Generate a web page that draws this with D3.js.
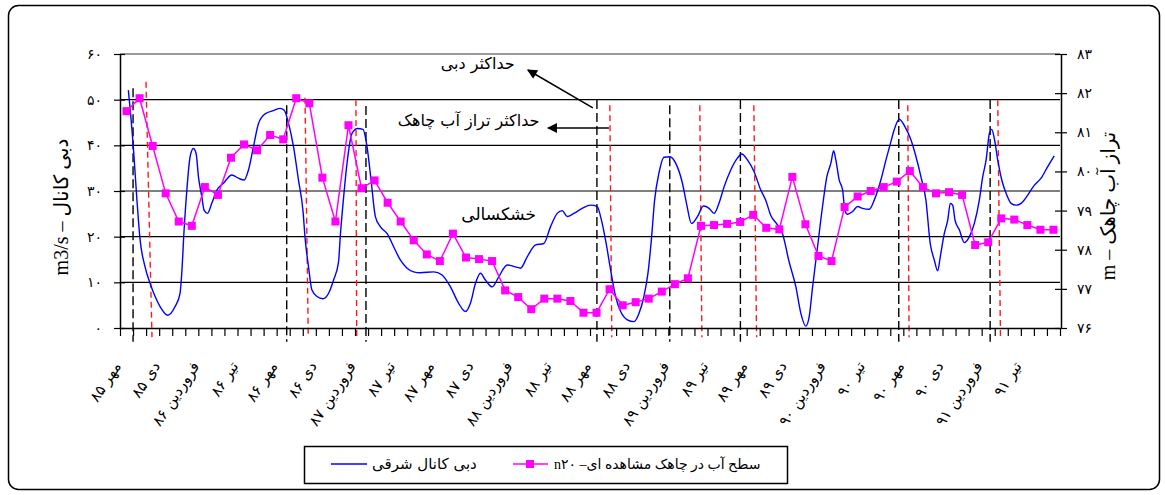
<!DOCTYPE html>
<html>
<head>
<meta charset="utf-8">
<script src="https://cdn.jsdelivr.net/npm/d3@7"></script>
<style>
  body { margin: 0; background: #fff; }
  svg { display: block; }
  text { font-family: "DejaVu Sans", sans-serif; fill: #000; }
</style>
</head>
<body>
<svg id="chart" width="1165" height="495"></svg>
<script>
// Month labels along the bottom axis (one every three months, starting at مهر ۸۵)
const monthLabels = ["مهر ۸۵","دی ۸۵","فروردین ۸۶","تیر ۸۶","مهر ۸۶","دی ۸۶","فروردین ۸۷","تیر ۸۷",
  "مهر ۸۷","دی ۸۷","فروردین ۸۸","تیر ۸۸","مهر ۸۸","دی ۸۸","فروردین ۸۹","تیر ۸۹",
  "مهر ۸۹","دی ۸۹","فروردین ۹۰","تیر ۹۰","مهر ۹۰","دی ۹۰","فروردین ۹۱","تیر ۹۱"];
const monthCount = 72;

const flowTicks = [0, 10, 20, 30, 40, 50, 60];
const flowTickLabels = ["۰","۱۰","۲۰","۳۰","۴۰","۵۰","۶۰"];
const levelTicks = [76, 77, 78, 79, 80, 81, 82, 83];
const levelTickLabels = ["۷۶","۷۷","۷۸","۷۹","۸۰","۸۱","۸۲","۸۳"];

// Monthly water level in observation well n20 (m)
const wellLevel = [81.54,81.87,80.65,79.44,78.72,78.61,79.60,79.40,80.35,80.69,80.54,80.93,
  80.82,81.87,81.74,79.84,78.72,81.18,79.57,79.77,79.20,78.72,78.24,77.88,
  77.71,78.41,77.80,77.76,77.71,76.96,76.79,76.48,76.75,76.75,76.69,76.39,
  76.39,76.99,76.58,76.66,76.75,76.93,77.12,77.27,78.61,78.63,78.66,78.71,
  78.89,78.56,78.52,79.86,78.65,77.84,77.71,79.09,79.36,79.50,79.60,79.74,
  80.01,79.60,79.44,79.47,79.40,78.12,78.19,78.80,78.77,78.63,78.51,78.51];

// East canal discharge (m3/s), time in months from the start of مهر ۸۵
const flowMonth = [0.14,0.52,0.78,1.04,1.42,1.80,2.19,2.57,3.16,3.72,4.10,4.23,4.41,4.62,4.87,5.12,
  5.33,5.51,5.77,5.94,6.20,6.53,6.92,7.42,8.07,8.57,9.01,9.34,9.72,10.11,10.62,11.26,
  11.77,12.08,12.41,12.79,13.17,13.51,13.69,13.94,14.20,14.59,15.05,15.48,15.86,16.24,16.37,16.63,
  16.89,17.27,17.70,18.11,18.42,18.73,19.06,19.44,19.95,20.46,20.97,21.49,21.99,22.51,23.53,24.17,
  24.81,25.44,25.96,26.34,26.73,27.11,27.49,28.01,28.51,29.16,29.79,30.18,30.69,31.33,31.96,32.48,
  32.99,33.37,33.76,34.26,34.91,35.54,36.06,36.31,36.69,37.08,37.46,37.85,38.36,38.87,39.25,39.63,
  39.94,40.20,40.45,40.78,41.17,41.63,42.06,42.58,42.91,43.27,43.73,44.19,44.62,45.00,45.38,45.77,
  46.28,46.79,47.12,47.56,48.07,48.58,48.96,49.34,49.86,50.24,50.75,51.27,51.65,52.03,52.29,52.55,
  52.93,53.31,53.64,53.95,54.16,54.33,54.59,54.85,55.02,55.23,55.61,56.00,56.38,56.89,57.27,57.78,
  58.17,58.55,58.80,59.19,59.62,60.08,60.47,60.85,61.23,61.56,61.87,62.13,62.33,62.64,62.90,63.10,
  63.28,63.46,63.79,64.17,64.56,64.94,65.32,65.58,65.84,66.09,66.27,66.47,66.73,67.04,67.37,67.75,
  68.14,68.52,69.03,69.54,70.05,70.55,71.06];
const flowValue = [52.1,39.7,28.7,19.3,13.4,9.8,6.9,4.7,2.8,4.7,7.6,12.0,21.5,30.2,37.5,39.3,
  38.2,33.1,28.7,25.8,25.1,27.3,30.2,31.7,33.5,32.8,32.4,34.6,39.7,44.8,46.9,47.6,
  48.1,47.7,44.8,39.7,32.4,25.8,19.3,13.4,8.3,6.9,6.4,7.6,10.5,14.5,20.0,28.7,
  36.1,42.6,43.7,43.5,39.7,32.4,24.4,22.2,20.7,17.8,14.9,13.1,12.3,12.1,12.3,11.6,
  9.0,5.4,3.6,5.4,9.8,12.0,10.5,9.0,11.2,13.8,13.4,13.1,15.6,18.2,18.5,22.2,
  25.1,25.7,24.4,25.1,26.2,26.9,26.6,24.4,19.3,12.7,6.9,3.6,1.8,1.4,3.2,6.9,
  12.0,19.3,28.0,33.9,37.4,37.5,36.1,31.7,27.0,22.9,24.4,26.7,26.2,25.1,27.3,30.9,
  34.6,37.2,38.1,36.8,34.2,30.2,28.0,24.7,22.6,20.7,14.5,9.0,3.2,0.4,2.5,9.0,
  17.8,26.6,33.1,36.1,38.8,36.8,32.4,30.2,25.8,24.9,25.5,26.6,26.2,26.0,28.0,32.4,
  36.8,40.8,43.4,45.7,44.1,41.2,37.5,33.1,28.0,18.5,14.9,12.5,15.6,20.7,23.6,27.3,
  26.9,23.6,21.5,18.7,20.0,22.9,28.0,33.1,36.8,42.6,43.5,41.5,36.8,32.4,29.5,27.3,
  26.9,27.3,29.1,31.3,32.8,35.3,37.7];

// Yearly peak discharge markers (black dashed): month position and upper end (m3/s)
const flowPeakMonth = [0.50,12.27,18.34,36.03,41.61,47.02,59.15,66.15];
const flowPeakTop   = [52.5,48.8,48.6,49.9,48.8,49.9,49.9,49.9];
// Yearly peak well level markers (red dashed): month at top, month at base, upper end
const levelPeakMonthTop  = [1.49,13.67,17.57,37.02,43.91,48.05,59.84,66.73];
const levelPeakMonthBase = [1.95,13.92,17.63,37.17,44.07,48.26,59.94,66.94];
const levelPeakTop       = [53.9,50.4,49.9,48.8,48.8,48.8,48.8,49.9];

const svg = d3.select("#chart");
const plot = { left: 120, right: 1060, top: 54, bottom: 328 };

const x = d3.scaleLinear().domain([-0.5, monthCount - 0.5]).range([plot.left, plot.right]);
const yFlow = d3.scaleLinear().domain([0, 60]).range([plot.bottom, plot.top]);
const yLevel = d3.scaleLinear().domain([76, 83]).range([plot.bottom, plot.top]);

// outer frame
svg.append("rect").attr("x", 8.5).attr("y", 5.5).attr("width", 1151).attr("height", 484)
  .attr("rx", 10).attr("fill", "#fff").attr("stroke", "#000").attr("stroke-width", 1.5);

// horizontal grid lines
svg.append("g").selectAll("line").data(flowTicks.filter(d => d > 0 && d < 60)).join("line")
  .attr("x1", plot.left).attr("x2", plot.right)
  .attr("y1", d => yFlow(d)).attr("y2", d => yFlow(d))
  .attr("stroke", "#000").attr("stroke-width", 1.2);
svg.append("line").attr("x1", plot.left).attr("x2", plot.right)
  .attr("y1", yFlow(60)).attr("y2", yFlow(60))
  .attr("stroke", "#9a9a9a").attr("stroke-width", 2);

// peak markers
svg.append("g").selectAll("line").data(flowPeakMonth).join("line")
  .attr("x1", d => x(d)).attr("x2", d => x(d))
  .attr("y1", (d, i) => yFlow(flowPeakTop[i])).attr("y2", yFlow(-3))
  .attr("stroke", "#000").attr("stroke-width", 1.4).attr("stroke-dasharray", "9,4");
svg.append("g").selectAll("line").data(levelPeakMonthTop).join("line")
  .attr("x1", d => x(d)).attr("x2", (d, i) => x(levelPeakMonthBase[i]))
  .attr("y1", (d, i) => yFlow(levelPeakTop[i])).attr("y2", yFlow(-2))
  .attr("stroke", "#ff1a1a").attr("stroke-width", 1.4).attr("stroke-dasharray", "6,4");

// discharge line
const flowPts = flowMonth.map((m, i) => [m, flowValue[i]]);
svg.append("path").datum(flowPts)
  .attr("fill", "none").attr("stroke", "#0000ff").attr("stroke-width", 1.4)
  .attr("d", d3.line().x(d => x(d[0])).y(d => yFlow(d[1])).curve(d3.curveMonotoneX));

// well level line with square markers
svg.append("path").datum(wellLevel)
  .attr("fill", "none").attr("stroke", "#ff00ff").attr("stroke-width", 1.5)
  .attr("d", d3.line().x((d, i) => x(i)).y(d => yLevel(d)));
svg.append("g").selectAll("rect").data(wellLevel).join("rect")
  .attr("x", (d, i) => x(i) - 4).attr("y", d => yLevel(d) - 4)
  .attr("width", 8).attr("height", 8).attr("fill", "#ff00ff");

// axes
const leftAxis = svg.append("g").attr("transform", `translate(${plot.left},0)`)
  .call(d3.axisLeft(yFlow).tickValues(flowTicks).tickFormat((d, i) => flowTickLabels[i])
    .tickSizeInner(6).tickSizeOuter(0).tickPadding(12));
leftAxis.selectAll(".tick line").attr("x1", 5);
const rightAxis = svg.append("g").attr("transform", `translate(${plot.right + 1},0)`)
  .call(d3.axisRight(yLevel).tickValues(levelTicks).tickFormat((d, i) => levelTickLabels[i])
    .tickSizeInner(6).tickSizeOuter(0).tickPadding(10));
rightAxis.selectAll(".tick line").attr("x1", -6);
const bottomAxis = svg.append("g").attr("transform", `translate(0,${plot.bottom})`)
  .call(d3.axisBottom(x).tickValues(d3.range(-0.5, monthCount, 1)).tickFormat("")
    .tickSizeInner(8).tickSizeOuter(0));
[leftAxis, rightAxis, bottomAxis].forEach(g => {
  g.selectAll("path.domain").attr("stroke", "#000").attr("stroke-width", 1.5);
  g.selectAll(".tick line").attr("stroke", "#000").attr("stroke-width", 1.2);
  g.selectAll("text").attr("font-family", "DejaVu Sans").attr("font-size", 14).attr("fill", "#000");
});

// rotated month labels
svg.append("g").selectAll("text").data(monthLabels).join("text")
  .attr("transform", (d, i) => `translate(${x(i * 3) - 5},${366}) rotate(-57)`)
  .attr("text-anchor", "end").attr("font-size", 15).text(d => d);

// axis titles
svg.append("text").attr("transform", `translate(68,207) rotate(-90)`)
  .attr("text-anchor", "middle").attr("font-size", 20)
  .style("font-family", "'Liberation Serif','DejaVu Sans'")
  .text("m3/s – دبی کانال");
svg.append("text").attr("transform", `translate(1115,206) rotate(-90)`)
  .attr("text-anchor", "middle").attr("font-size", 20)
  .style("font-family", "'Liberation Serif','DejaVu Sans'")
  .text("m – تراز آب چاهک");

// annotations
const defs = svg.append("defs");
defs.append("marker").attr("id", "head").attr("viewBox", "0 0 10 10")
  .attr("refX", 9).attr("refY", 5).attr("markerWidth", 14).attr("markerHeight", 10)
  .attr("markerUnits", "userSpaceOnUse").attr("orient", "auto")
  .append("path").attr("d", "M0,0L10,5L0,10Z").attr("fill", "#000");

const arrows = [
  { from: [35.72, 48.2], to: [30.74, 56.5] },
  { from: [36.95, 43.8], to: [32.28, 43.8] }
];
svg.append("g").selectAll("line").data(arrows).join("line")
  .attr("x1", d => x(d.from[0])).attr("y1", d => yFlow(d.from[1]))
  .attr("x2", d => x(d.to[0])).attr("y2", d => yFlow(d.to[1]))
  .attr("stroke", "#000").attr("stroke-width", 1.5).attr("marker-end", "url(#head)");

const notes = [
  { text: "حداکثر دبی", at: [26.9, 57.8], size: 16 },
  { text: "حداکثر تراز آب چاهک", at: [26.2, 45.3], size: 16 },
  { text: "خشکسالی", at: [28.5, 24.7], size: 17 }
];
svg.append("g").selectAll("text").data(notes).join("text")
  .attr("x", d => x(d.at[0])).attr("y", d => yFlow(d.at[1]))
  .attr("text-anchor", "middle").attr("dominant-baseline", "middle")
  .attr("font-size", d => d.size).text(d => d.text);

// legend
const lg = svg.append("g");
lg.append("rect").attr("x", 304.5).attr("y", 446.5).attr("width", 483).attr("height", 37)
  .attr("fill", "#fff").attr("stroke", "#000").attr("stroke-width", 1.5);
lg.append("line").attr("x1", 331).attr("x2", 367).attr("y1", 464).attr("y2", 464)
  .attr("stroke", "#0000ff").attr("stroke-width", 1.4);
lg.append("text").attr("x", 372).attr("y", 469).attr("font-size", 15).text("دبی کانال شرقی");
lg.append("line").attr("x1", 513).attr("x2", 548).attr("y1", 464).attr("y2", 464)
  .attr("stroke", "#ff00ff").attr("stroke-width", 1.5);
lg.append("rect").attr("x", 526).attr("y", 460).attr("width", 8).attr("height", 8).attr("fill", "#ff00ff");
lg.append("text").attr("x", 554).attr("y", 469).attr("font-size", 14)
  .style("font-family", "'Liberation Serif','DejaVu Sans'")
  .text("n۲۰ –سطح آب در چاهک مشاهده ای");
</script>
</body>
</html>
